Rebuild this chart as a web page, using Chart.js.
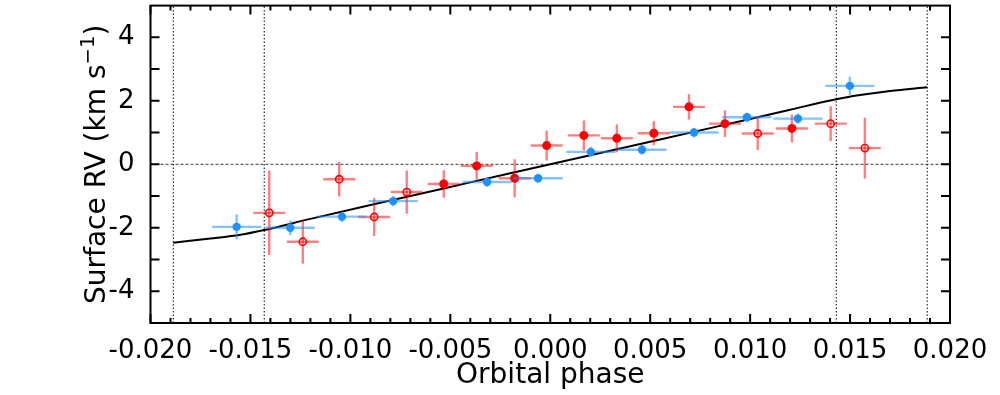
<!DOCTYPE html>
<html>
<head>
<meta charset="utf-8">
<script src="https://cdn.jsdelivr.net/npm/chart.js@4.4.1/dist/chart.umd.min.js"></script>
<style>
  html, body { margin: 0; padding: 0; background: #fff; overflow: hidden; }
  #rvChart { display: block; }
</style>
</head>
<body>
<canvas id="rvChart" width="1000" height="395"></canvas>
<script>
// axis ticks
const xTicks = [-0.020, -0.015, -0.010, -0.005, 0.000, 0.005, 0.010, 0.015, 0.020];
const yTicks = [-4, -2, 0, 2, 4];

// transit contact phases (dotted verticals)
const contactPhases = [-0.01886, -0.01431, 0.01431, 0.01886];

// blue, filled
const bluePhase = [-0.01569, -0.01301, -0.01042, -0.00786, -0.00316, -0.00061, 0.00203, 0.00459, 0.00719, 0.00984, 0.01239, 0.01499];
const blueRV    = [-1.97, -2.00, -1.65, -1.16, -0.56, -0.44, 0.39, 0.46, 1.00, 1.48, 1.44, 2.47];
const blueRVErr = [0.39, 0.23, 0.16, 0.16, 0.15, 0.14, 0.16, 0.15, 0.15, 0.15, 0.16, 0.29];
const bluePhaseErr = [0.00123, 0.00123, 0.00123, 0.00123, 0.00123, 0.00123, 0.00123, 0.00123, 0.00123, 0.00123, 0.00123, 0.00123];

// red, filled
const redPhase = [-0.00533, -0.00368, -0.00178, -0.00018, 0.00168, 0.00333, 0.00518, 0.00694, 0.00874, 0.01209];
const redRV    = [-0.62, -0.05, -0.44, 0.59, 0.91, 0.82, 0.98, 1.81, 1.28, 1.13];
const redRVErr = [0.43, 0.44, 0.60, 0.47, 0.47, 0.44, 0.38, 0.40, 0.42, 0.44];
const redPhaseErr = [0.0008, 0.0008, 0.0008, 0.0008, 0.0008, 0.0008, 0.0008, 0.0008, 0.0008, 0.0008];

// red, open
const openPhase = [-0.01406, -0.01238, -0.01056, -0.00881, -0.00718, 0.01038, 0.01403, 0.01574];
const openRV    = [-1.53, -2.44, -0.47, -1.66, -0.875, 0.97, 1.28, 0.51];
const openRVErr = [1.33, 0.69, 0.54, 0.60, 0.68, 0.52, 0.55, 0.96];
const openPhaseErr = [0.0008, 0.0008, 0.0008, 0.0008, 0.0008, 0.0008, 0.0008, 0.0008];

// model curve
const modelPhase = [-0.01886, -0.0170, -0.0155, -0.01431, -0.012, -0.008, -0.004, 0.000, 0.004, 0.008, 0.012, 0.01431, 0.0155, 0.0170, 0.01886];
const modelRV    = [-2.47, -2.34, -2.22, -2.07, -1.72, -1.14, -0.57, 0.00, 0.57, 1.14, 1.72, 2.05, 2.18, 2.31, 2.43];

const toPts = (xs, ys) => xs.map((v, i) => ({ x: v, y: ys[i] }));

const FONT = 'DejaVu Sans';
const FS = 28;      // axis titles
const TICK_FS = 26; // tick labels
Chart.defaults.font.family = FONT;
Chart.defaults.color = '#000';

const errorBars = {
    id: 'errorBars',
    beforeDatasetDraw(chart, args) {
        const ds = chart.data.datasets[args.index];
        if (!ds.yErr) return;
        const xs = chart.scales.x, ys = chart.scales.y, ctx = chart.ctx;
        ctx.save();
        ctx.strokeStyle = ds.barColor;
        ctx.lineWidth = 2.4;
        ds.data.forEach((p, i) => {
            const px = xs.getPixelForValue(p.x);
            const py = ys.getPixelForValue(p.y);
            ctx.beginPath();
            ctx.moveTo(xs.getPixelForValue(p.x - ds.xErr[i]), py);
            ctx.lineTo(xs.getPixelForValue(p.x + ds.xErr[i]), py);
            ctx.stroke();
            ctx.beginPath();
            ctx.moveTo(px, ys.getPixelForValue(p.y - ds.yErr[i]));
            ctx.lineTo(px, ys.getPixelForValue(p.y + ds.yErr[i]));
            ctx.stroke();
        });
        ctx.restore();
    }
};

const frameTicks = {
    id: 'frameTicks',
    afterDraw(chart) {
        const { ctx, chartArea: a, scales: { x, y } } = chart;
        ctx.save();
        ctx.strokeStyle = '#000';
        ctx.lineWidth = 2;
        ctx.strokeRect(a.left, a.top, a.right - a.left, a.bottom - a.top);
        ctx.beginPath();
        for (let k = -20; k <= 20; k++) {
            const px = x.getPixelForValue(k * 0.001);
            const len = k % 5 === 0 ? 9 : 5;
            ctx.moveTo(px, a.bottom); ctx.lineTo(px, a.bottom - len);
            ctx.moveTo(px, a.top); ctx.lineTo(px, a.top + len);
        }
        for (let v = -4; v <= 4; v++) {
            const py = y.getPixelForValue(v);
            ctx.moveTo(a.left, py); ctx.lineTo(a.left + 9, py);
            ctx.moveTo(a.right, py); ctx.lineTo(a.right - 9, py);
        }
        ctx.stroke();

        // y axis title with a real superscript
        const main = 'Surface RV (km s', sup = '\u22121', tail = ')';
        ctx.fillStyle = '#000';
        ctx.font = FS + 'px ' + FONT;
        const w1 = ctx.measureText(main).width, w3 = ctx.measureText(tail).width;
        ctx.font = (FS * 0.7) + 'px ' + FONT;
        const w2 = ctx.measureText(sup).width;
        const total = w1 + w2 + w3;
        ctx.translate(105, (a.top + a.bottom) / 2);
        ctx.rotate(-Math.PI / 2);
        ctx.textBaseline = 'alphabetic';
        ctx.textAlign = 'left';
        let cx = -total / 2;
        ctx.font = FS + 'px ' + FONT;
        ctx.fillText(main, cx, 0);
        cx += w1;
        ctx.font = (FS * 0.7) + 'px ' + FONT;
        ctx.fillText(sup, cx, -11);
        cx += w2;
        ctx.font = FS + 'px ' + FONT;
        ctx.fillText(tail, cx, 0);
        ctx.restore();
    }
};

const refLines = contactPhases.map(c => ({
    type: 'line',
    data: [{ x: c, y: -5 }, { x: c, y: 5 }],
    borderColor: '#000',
    borderWidth: 1,
    borderDash: [1.5, 2],
    pointRadius: 0,
    order: 10
}));

new Chart(document.getElementById('rvChart'), {
    type: 'scatter',
    data: {
        datasets: [
            {
                data: toPts(bluePhase, blueRV),
                xErr: bluePhaseErr, yErr: blueRVErr,
                barColor: 'rgba(30,144,255,0.55)',
                backgroundColor: '#1e90ff', borderColor: '#1e90ff',
                pointRadius: 4.2, borderWidth: 0,
                order: 1
            },
            {
                data: toPts(redPhase, redRV),
                xErr: redPhaseErr, yErr: redRVErr,
                barColor: 'rgba(255,0,0,0.5)',
                backgroundColor: '#ff0000', borderColor: '#ff0000',
                pointRadius: 4.5, borderWidth: 0,
                order: 2
            },
            {
                data: toPts(openPhase, openRV),
                xErr: openPhaseErr, yErr: openRVErr,
                barColor: 'rgba(255,0,0,0.5)',
                backgroundColor: 'rgba(0,0,0,0)', borderColor: '#ff0000',
                pointRadius: 3.6, borderWidth: 1.6,
                order: 3
            },
            {
                type: 'line',
                data: toPts(modelPhase, modelRV),
                borderColor: '#000', borderWidth: 2,
                pointRadius: 0,
                cubicInterpolationMode: 'monotone',
                order: 5
            },
            {
                type: 'line',
                data: [{ x: -0.02, y: 0 }, { x: 0.02, y: 0 }],
                borderColor: '#000', borderWidth: 0.8,
                borderDash: [3, 2],
                pointRadius: 0,
                order: 9
            },
            ...refLines
        ]
    },
    options: {
        responsive: false,
        animation: false,
        devicePixelRatio: 1,
        layout: { padding: { top: 5, right: 50, left: 0, bottom: 0 } },
        plugins: { legend: { display: false }, tooltip: { enabled: false } },
        scales: {
            x: {
                type: 'linear',
                min: -0.02, max: 0.02,
                afterBuildTicks: s => { s.ticks = xTicks.map(v => ({ value: v })); },
                afterFit: s => { s.height = 72; s.paddingLeft = 0; s.paddingRight = 0; },
                grid: { display: false },
                border: { display: false },
                ticks: {
                    font: { size: TICK_FS },
                    padding: 5,
                    maxRotation: 0,
                    autoSkip: false,
                    callback: v => v.toFixed(3)
                },
                title: {
                    display: true,
                    text: 'Orbital phase',
                    font: { size: FS },
                    padding: { top: 0, bottom: 2 }
                }
            },
            y: {
                type: 'linear',
                min: -5, max: 5,
                afterBuildTicks: s => { s.ticks = yTicks.map(v => ({ value: v })); },
                afterFit: s => { s.width = 150.5; s.paddingTop = 0; s.paddingBottom = 0; },
                grid: { display: false },
                border: { display: false },
                ticks: {
                    font: { size: TICK_FS },
                    padding: 8
                },
                title: { display: false }
            }
        }
    },
    plugins: [errorBars, frameTicks]
});
</script>
</body>
</html>
